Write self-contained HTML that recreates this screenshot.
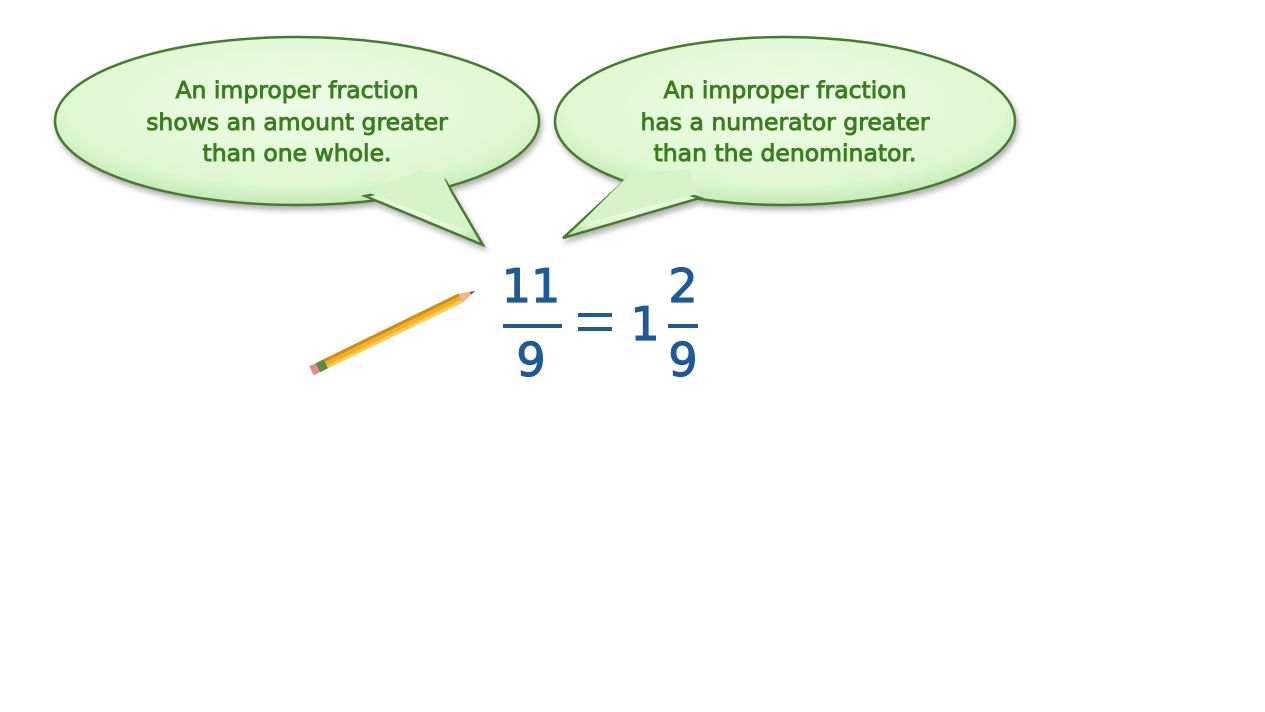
<!DOCTYPE html>
<html><head><meta charset="utf-8"><style>
html,body{margin:0;padding:0;background:#fff;width:1265px;height:712px;overflow:hidden}
</style></head><body>
<svg width="1265" height="712" viewBox="0 0 1265 712" xmlns="http://www.w3.org/2000/svg">
<defs>
<radialGradient id="g" cx="50%" cy="40%" r="60%">
<stop offset="0" stop-color="#eefde6"/><stop offset="0.8" stop-color="#def8d2"/><stop offset="1" stop-color="#c6e8b6"/>
</radialGradient>
<filter id="s" x="-10%" y="-10%" width="120%" height="130%"><feDropShadow dx="2" dy="4" stdDeviation="3" flood-color="#000" flood-opacity="0.3"/></filter>
</defs>
<g filter="url(#s)">
<g stroke="#4a7a32" stroke-width="2.5" fill="url(#g)">
<ellipse cx="297" cy="121" rx="242" ry="84"/>
<polygon points="365,196 483,245 445,180"/>
<ellipse cx="785" cy="121" rx="230" ry="84"/>
<polygon points="630,176 563,238 700,198"/>
</g>
<g fill="#d6f2c8">
<polygon points="367,192 470,232 443,176 420,170"/>
<polygon points="632,172 580,224 697,194 690,170"/>
</g>
</g>
<g font-family="DejaVu Sans, sans-serif" font-size="23.5" fill="#3b7d1f" text-anchor="middle" stroke="#3b7d1f" stroke-width="0.9">
<text x="297" y="98">An improper fraction</text>
<text x="297" y="130">shows an amount greater</text>
<text x="297" y="161">than one whole.</text>
<text x="785" y="98">An improper fraction</text>
<text x="785" y="130">has a numerator greater</text>
<text x="785" y="161">than the denominator.</text>
</g>
<g transform="translate(475,291) rotate(154)">
<polygon points="0,0 16,-5 16,5" fill="#e8b890"/>
<polygon points="0,0 5,-1.6 5,1.6" fill="#7a4a3a"/>
<rect x="16" y="-5" width="150" height="10" fill="#f2b12a"/>
<rect x="16" y="-5" width="150" height="3" fill="#f8cd55"/>
<rect x="16" y="2" width="150" height="3" fill="#d08e18"/>
<rect x="166" y="-5" width="9" height="10" fill="#5a8a3a"/>
<rect x="175" y="-5" width="7" height="10" fill="#e88a8a"/>
</g>
<g font-family="DejaVu Sans, sans-serif" fill="#1f5a96" text-anchor="middle" stroke="#1f5a96" stroke-width="1.2">
<text x="531" y="302" font-size="46">11</text>
<text x="531" y="376" font-size="46">9</text>
<text x="645" y="340" font-size="46">1</text>
<text x="683" y="302" font-size="46">2</text>
<text x="683" y="376" font-size="46">9</text>
</g>
<g fill="#1f5a96">
<rect x="503" y="324" width="59" height="4"/>
<rect x="578" y="313" width="34" height="4"/>
<rect x="578" y="327" width="34" height="4"/>
<rect x="668" y="324" width="30" height="4"/>
</g>
</svg>
</body></html>
